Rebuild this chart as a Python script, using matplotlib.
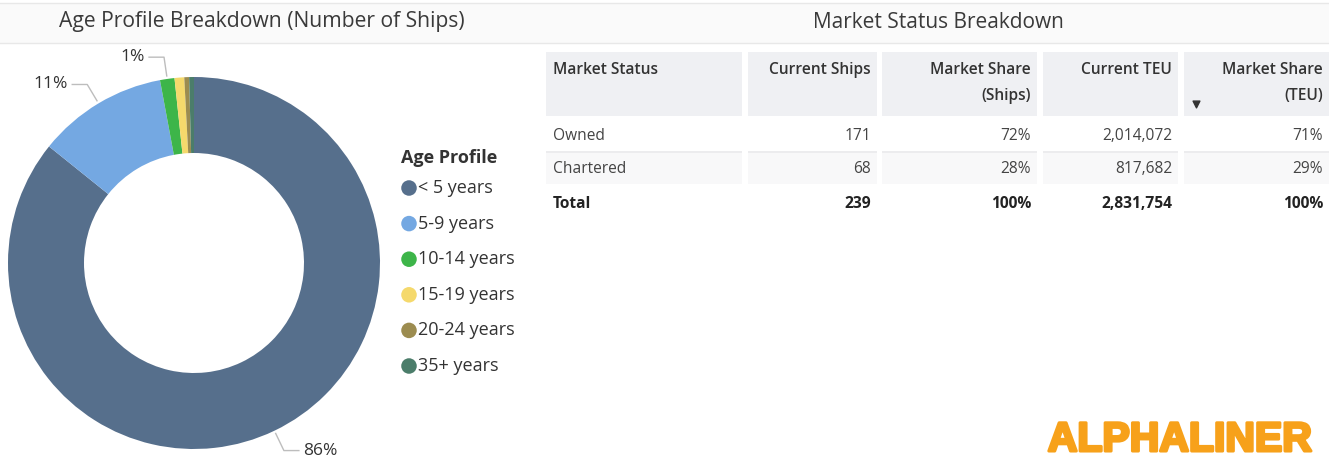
import matplotlib
matplotlib.use("Agg")
import matplotlib.pyplot as plt
from matplotlib.patches import Rectangle
import matplotlib.patheffects as pe
import numpy as np

plt.rcParams['font.family'] = ['Open Sans', 'DejaVu Sans']

# figure size in pixels
W, H = 1329, 468

# age profile data (number of ships)
age_groups = ["< 5 years", "5-9 years", "10-14 years", "15-19 years", "20-24 years", "35+ years"]
age_ships = [205, 27, 3, 2, 1, 1]
age_colors = ["#566f8c", "#74a8e2", "#3db549", "#f5d96c", "#9c8c50", "#4b7d6a"]
labelled = [0, 1, 2]   # slices that get a data label

# market status table
table_cols = ["Market Status", "Current Ships", "Market Share\n(Ships)", "Current TEU", "Market Share\n(TEU)"]
status = ["Owned", "Chartered"]
cur_ships = [171, 68]
share_ships = [72, 28]
cur_teu = [2014072, 817682]
share_teu = [71, 29]

fig = plt.figure(figsize=(W / 100, H / 100), dpi=100)
fig.patch.set_facecolor("white")

# overlay axes in pixel coords for the titles, legend and table
bg = fig.add_axes([0, 0, 1, 1])
bg.set_xlim(0, W)
bg.set_ylim(H, 0)
bg.axis("off")

# title band
bg.add_patch(Rectangle((0, 3), W, 40, facecolor="#fafafa", edgecolor="none"))
bg.plot([0, W], [3, 3], color="#e8e8e8", lw=1)
bg.plot([0, W], [43, 43], color="#e8e8e8", lw=1)
bg.text(262, 22, "Age Profile Breakdown (Number of Ships)", fontsize=15.2, color="#3a3a3a",
        ha="center", va="center")
bg.text(938, 22, "Market Status Breakdown", fontsize=15.0, color="#3a3a3a",
        ha="center", va="center")

# donut
cx, cy, half = 194, 263, 200
ax = fig.add_axes([(cx - half) / W, (H - cy - half) / H, 2 * half / W, 2 * half / H])
r_out = 186 / half
ring = 76 / half
wedges, _ = ax.pie(age_ships, colors=age_colors, startangle=90, counterclock=False,
                   radius=r_out, wedgeprops=dict(width=ring, edgecolor="none"))
ax.set_xlim(-1, 1)
ax.set_ylim(-1, 1)
ax.set_aspect("equal")
ax.axis("off")

total_ships = sum(age_ships)
for i in labelled:
    w = wedges[i]
    mid = np.deg2rad((w.theta1 + w.theta2) / 2)
    p0 = (np.cos(mid) * (r_out + 3 / half), np.sin(mid) * (r_out + 3 / half))
    p1 = (np.cos(mid) * (r_out + 22 / half), np.sin(mid) * (r_out + 22 / half))
    side = 1 if np.cos(mid) >= 0 else -1
    p2 = (p1[0] + side * 15 / half, p1[1])
    ax.plot([p0[0], p1[0], p2[0]], [p0[1], p1[1], p2[1]], color="#bdbdbd", lw=1, clip_on=False)
    pct = round(100 * age_ships[i] / total_ships)
    ax.text(p2[0] + side * 4 / half, p2[1], f"{pct}%", fontsize=12.5, color="#333333",
            ha="left" if side > 0 else "right", va="center", clip_on=False)

# legend
bg.text(401, 158, "Age Profile", fontsize=13, fontweight="bold", color="#333333",
        ha="left", va="center")
for k, (g, c) in enumerate(zip(age_groups, age_colors)):
    y = 188 + k * 35.6
    bg.scatter([409], [y], s=125, color=c, edgecolors="none")
    bg.text(418, y, g, fontsize=13, color="#333333", ha="left", va="center")

# table
col_x = [(546, 742), (748, 877), (882, 1037), (1043, 1178), (1184, 1329)]
head_bg = "#eff0f3"
for j, (x0, x1) in enumerate(col_x):
    bg.add_patch(Rectangle((x0, 52), x1 - x0, 64, facecolor=head_bg, edgecolor="none"))
    bg.add_patch(Rectangle((x0, 151), x1 - x0, 2, facecolor="#ececee", edgecolor="none"))
    bg.add_patch(Rectangle((x0, 153), x1 - x0, 31, facecolor="#f8f8f9", edgecolor="none"))
    lab = table_cols[j]
    if j == 0:
        bg.text(x0 + 7, 62, lab, fontsize=11.2, fontweight="semibold", color="#333333",
                ha="left", va="top", linespacing=1.85)
    else:
        bg.text(x1 - 6, 62, lab, fontsize=11.2, fontweight="semibold", color="#333333",
                ha="right", va="top", linespacing=1.85, multialignment="right")

# sort arrow in the last header
bg.scatter([1196], [104], marker="v", s=24, color="#333333")

rows = []
for i in range(len(status)):
    rows.append([status[i], f"{cur_ships[i]}", f"{share_ships[i]}%", f"{cur_teu[i]:,}", f"{share_teu[i]}%"])
rows.append(["Total", f"{sum(cur_ships)}", f"{sum(share_ships)}%", f"{sum(cur_teu):,}", f"{sum(share_teu)}%"])

row_y = [136, 169, 204]
for i, row in enumerate(rows):
    bold = i == len(rows) - 1
    for j, val in enumerate(row):
        x0, x1 = col_x[j]
        bg.text(x0 + 7 if j == 0 else x1 - 6, row_y[i], val, fontsize=11.2,
                fontweight="bold" if bold else "normal",
                color="#222222" if bold else "#444444",
                ha="left" if j == 0 else "right", va="center")

# logo
bg.text(1180, 440, "ALPHALINER", fontsize=29.5, fontweight="bold", color="#f7a11a",
        family="Liberation Sans", ha="center", va="center",
        path_effects=[pe.withStroke(linewidth=2.2, foreground="#f7a11a")])

fig.savefig("out.png", dpi=100, facecolor="white")
